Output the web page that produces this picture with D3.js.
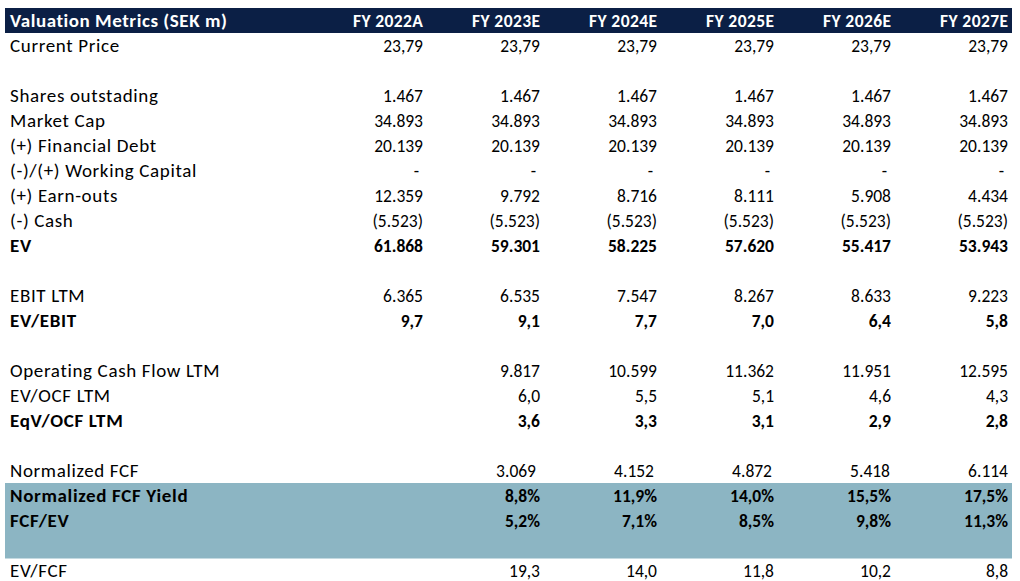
<!DOCTYPE html>
<html>
<head>
<meta charset="utf-8">
<script src="https://cdn.jsdelivr.net/npm/d3@7"></script>
<style>
  html, body { margin: 0; padding: 0; background: #ffffff; }
  svg { display: block; }
</style>
</head>
<body>
<svg id="chart" width="1020" height="581"></svg>
<script>
// ---- data ----
const title = "Valuation Metrics (SEK m)";
const years = ["FY 2022A", "FY 2023E", "FY 2024E", "FY 2025E", "FY 2026E", "FY 2027E"];

const currentPrice   = [23.79, 23.79, 23.79, 23.79, 23.79, 23.79];
const sharesOut      = [1467, 1467, 1467, 1467, 1467, 1467];
const marketCap      = [34893, 34893, 34893, 34893, 34893, 34893];
const financialDebt  = [20139, 20139, 20139, 20139, 20139, 20139];
const workingCapital = [0, 0, 0, 0, 0, 0];
const earnOuts       = [12359, 9792, 8716, 8111, 5908, 4434];
const cash           = [-5523, -5523, -5523, -5523, -5523, -5523];
const ev             = [61868, 59301, 58225, 57620, 55417, 53943];
const ebitLtm        = [6365, 6535, 7547, 8267, 8633, 9223];
const evEbit         = [9.7, 9.1, 7.7, 7.0, 6.4, 5.8];
const ocfLtm         = [null, 9817, 10599, 11362, 11951, 12595];
const evOcf          = [null, 6.0, 5.5, 5.1, 4.6, 4.3];
const eqvOcf         = [null, 3.6, 3.3, 3.1, 2.9, 2.8];
const normFcf        = [null, 3069, 4152, 4872, 5418, 6114];
const normFcfYield   = [null, 8.8, 11.9, 14.0, 15.5, 17.5];
const fcfEv          = [null, 5.2, 7.1, 8.5, 9.8, 11.3];
const evFcf          = [null, 19.3, 14.0, 11.8, 10.2, 8.8];

// rows: label, values, format kind, bold, shaded
const rows = [
  { label: "Current Price", values: currentPrice, fmt: "dec2" },
  { label: "", values: null },
  { label: "Shares outstading", values: sharesOut, fmt: "int" },
  { label: "Market Cap", values: marketCap, fmt: "int" },
  { label: "(+) Financial Debt", values: financialDebt, fmt: "int" },
  { label: "(-)/(+) Working Capital", values: workingCapital, fmt: "int" },
  { label: "(+) Earn-outs", values: earnOuts, fmt: "int" },
  { label: "(-) Cash", values: cash, fmt: "int" },
  { label: "EV", values: ev, fmt: "int", bold: true },
  { label: "", values: null },
  { label: "EBIT LTM", values: ebitLtm, fmt: "int" },
  { label: "EV/EBIT", values: evEbit, fmt: "dec1", bold: true },
  { label: "", values: null },
  { label: "Operating Cash Flow LTM", values: ocfLtm, fmt: "int" },
  { label: "EV/OCF LTM", values: evOcf, fmt: "dec1" },
  { label: "EqV/OCF LTM", values: eqvOcf, fmt: "dec1", bold: true },
  { label: "", values: null },
  { label: "Normalized FCF", values: normFcf, fmt: "int", nudge: true },
  { label: "Normalized FCF Yield", values: normFcfYield, fmt: "pct", bold: true, shaded: true },
  { label: "FCF/EV", values: fcfEv, fmt: "pct", bold: true, shaded: true },
  { label: "", values: null, shaded: true },
  { label: "EV/FCF", values: evFcf, fmt: "dec1" }
];

// ---- formatting (Swedish style: "." thousands, "," decimal) ----
const loc = d3.formatLocale({ decimal: ",", thousands: ".", grouping: [3], currency: ["", ""] });
const fInt = loc.format(",.0f"), fD1 = loc.format(",.1f"), fD2 = loc.format(",.2f");
function fmtVal(v, kind) {
  if (v === null || v === undefined) return "";
  if (kind === "int" && v === 0) return "-";
  let s;
  const a = Math.abs(v);
  if (kind === "int") s = fInt(a);
  else if (kind === "dec1") s = fD1(a);
  else if (kind === "dec2") s = fD2(a);
  else if (kind === "pct") s = fD1(a) + "%";
  return v < 0 ? "(" + s + ")" : s;
}

// ---- layout ----
const svg = d3.select("#chart");
const left = 5, right = 1012;
const FONT = "Carlito, Lato, 'Open Sans', sans-serif";
const FS_LABEL = 19, LS_LABEL = 0.65;
const FS_NUM = 17.5;
const FS_HEAD = 17.5, LS_HEAD = 0.4;

const rowIdx = d3.range(rows.length + 1); // 0 = header
const y = d3.scaleBand().domain(rowIdx).range([8, 8 + 25 * (rows.length + 1)]).padding(0);
const x = d3.scaleLinear().domain([0, years.length - 1]).range([423, 1008]);

// header band
svg.append("rect")
  .attr("x", left).attr("y", y(0))
  .attr("width", right - left).attr("height", y.bandwidth())
  .attr("fill", "#0b1f45");

// shaded bands
svg.selectAll("rect.shade")
  .data(rows.map((r, i) => ({ r, i: i + 1 })).filter(d => d.r.shaded))
  .join("rect")
  .attr("class", "shade")
  .attr("x", left).attr("y", d => y(d.i))
  .attr("width", right - left).attr("height", y.bandwidth() + 0.5)
  .attr("fill", "#8cb5c3");

const base = 6.5;

// header texts
svg.append("text")
  .attr("x", 10).attr("y", y(0) + y.bandwidth() / 2 + base)
  .attr("font-family", FONT).attr("font-size", FS_LABEL).attr("font-weight", "bold")
  .attr("letter-spacing", 0.55)
  .attr("fill", "#ffffff").text(title);

svg.selectAll("text.yr")
  .data(years)
  .join("text")
  .attr("class", "yr")
  .attr("x", (d, i) => x(i) + LS_HEAD)
  .attr("y", y(0) + y.bandwidth() / 2 + base)
  .attr("text-anchor", "end")
  .attr("font-family", FONT).attr("font-size", FS_HEAD).attr("font-weight", "bold")
  .attr("letter-spacing", LS_HEAD)
  .attr("fill", "#ffffff").text(d => d);

// row groups
const g = svg.selectAll("g.row")
  .data(rows.map((r, i) => ({ r, i: i + 1 })))
  .join("g")
  .attr("class", "row")
  .attr("transform", d => `translate(0,${y(d.i) + y.bandwidth() / 2 + base})`);

g.append("text")
  .attr("x", 10)
  .attr("font-family", FONT).attr("font-size", FS_LABEL)
  .attr("letter-spacing", LS_LABEL)
  .attr("font-weight", d => d.r.bold ? "bold" : "normal")
  .attr("fill", "#000000")
  .text(d => d.r.label);

g.each(function(d) {
  if (!d.r.values) return;
  d3.select(this).selectAll("text.v")
    .data(d.r.values.map((v, j) => ({ v, j, r: d.r })))
    .join("text")
    .attr("class", "v")
    .attr("x", e => x(e.j) - (e.r.nudge ? (5 - e.j) : 0) - (e.v === 0 && e.r.fmt === "int" ? 4 : 0))
    .attr("text-anchor", "end")
    .attr("font-family", FONT).attr("font-size", FS_NUM)
    .attr("font-weight", e => e.r.bold ? "bold" : "normal")
    .attr("fill", "#000000")
    .text(e => fmtVal(e.v, e.r.fmt));
});
</script>
</body>
</html>
